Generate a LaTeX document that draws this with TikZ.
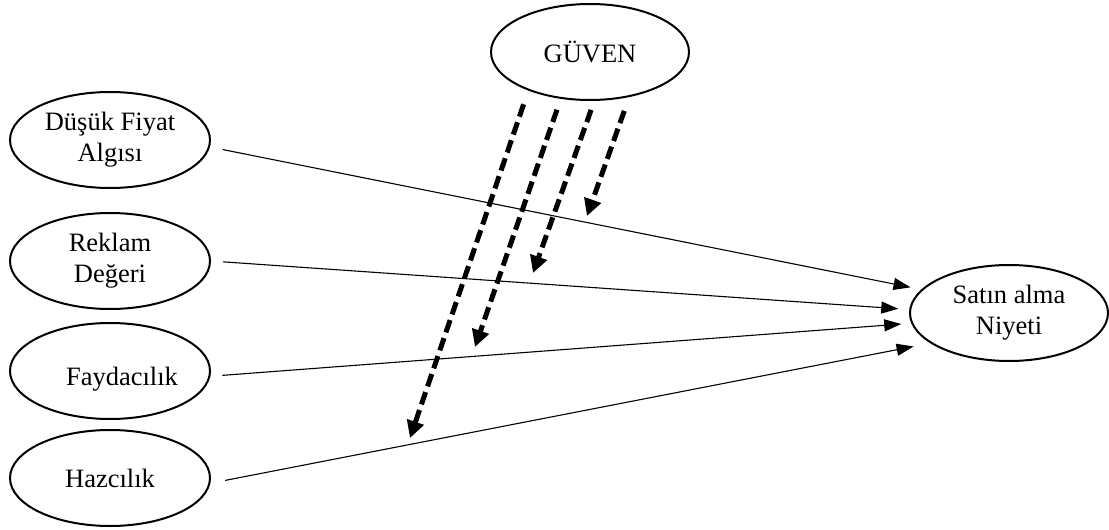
\documentclass[tikz,border=0pt]{standalone}
\usepackage{fontspec}
\setmainfont{Liberation Serif}
\usetikzlibrary{shapes.geometric,arrows.meta}
\begin{document}
\begin{tikzpicture}[x=1pt,y=-1pt,
  latent/.style={draw,ellipse,line width=2pt,inner sep=0pt,minimum width=198pt,minimum height=96pt,
    font=\fontsize{26.5}{31}\selectfont,align=center},
  path/.style={line width=1.1pt,-{Triangle[length=17pt,width=12pt]}},
  moder/.style={line width=5pt,dash pattern=on 13pt off 6pt,-{Triangle[length=17pt,width=17pt]}}]
\useasboundingbox (0,0) rectangle (1109,530);
\node[latent] (guven) at (590,52) {GÜVEN};
\node[latent,minimum width=200pt] (dfa) at (110,140) {Düşük Fiyat\\Algısı};
\node[latent,minimum width=200pt] (rek) at (110,261) {Reklam\\Değeri};
\node[latent,minimum width=200pt] (fay) at (110,371) {\raisebox{-8pt}[\height][\depth]{\hspace*{24pt}Faydacılık}};
\node[latent,minimum width=200pt] (haz) at (110,478) {Hazcılık};
\node[latent] (satin) at (1009,313) {Satın alma\\Niyeti};
\coordinate (t1) at (410,438);
\coordinate (t2) at (475,347);
\coordinate (t3) at (533,273);
\coordinate (t4) at (587,216);
\draw[path,shorten <=13pt,shorten >=11pt] (dfa.-4) -- (satin.165.4);
\draw[path,shorten <=12pt,shorten >=11pt] (rek.0) -- (satin.178.3);
\draw[path,shorten <=12pt,shorten >=10pt] (fay.-3) -- (satin.186.5);
\draw[path,shorten <=15pt,shorten >=17pt] (haz.-3) -- (satin.201);
\draw[moder,shorten <=14.5pt] (guven.212.2) -- (t1);
\draw[moder,shorten <=11.5pt] (guven.238.9) -- (t2);
\draw[moder,shorten <=9.5pt] (guven.275.1) -- (t3);
\draw[moder,shorten <=14.6pt] (guven.311.9) -- (t4);
\end{tikzpicture}
\end{document}
